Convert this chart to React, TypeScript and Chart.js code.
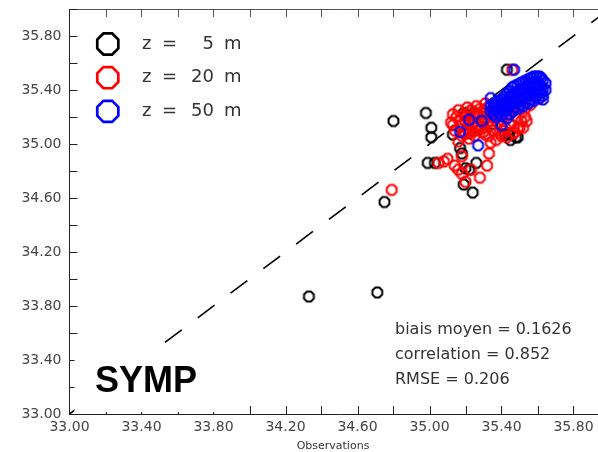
import React, { useEffect, useRef } from 'react';
import { Chart, registerables } from 'chart.js';

Chart.register(...registerables);

const AXIS_MIN = 33;
const AXIS_MAX = 36;
const TICK_STEP = 0.2;
const xTickLabels = ['33.00', '33.40', '33.80', '34.20', '34.60', '35.00', '35.40', '35.80'];
const yTickLabels = ['33.00', '33.40', '33.80', '34.20', '34.60', '35.00', '35.40', '35.80'];
const xAxisTitle = 'Observations';
const panelLabel = 'SYMP';
const statLines = ['biais moyen = 0.1626', 'correlation = 0.852', 'RMSE = 0.206'];
const depthLabels = ['5', '20', '50'];
const depthColors = ['#000000', '#ff0000', '#0000ff'];
const diagonal = [33, 36];

// z = 5 m (observations, model)
const obs5 = [34.33, 34.71, 34.75, 34.80, 34.98, 35.01, 35.01, 34.99, 35.03, 35.19, 35.13, 35.17, 35.18, 35.19, 35.24, 35.26, 35.20, 35.22, 35.44, 35.48, 35.20, 35.25, 35.43, 35.22, 35.30, 35.40, 35.50, 35.55, 35.35, 35.45, 35.42, 35.45, 35.49, 35.26];
const sym5 = [33.87, 33.90, 34.57, 35.17, 35.23, 35.12, 35.05, 34.86, 34.86, 35.23, 35.07, 34.97, 34.93, 34.70, 34.64, 34.86, 34.82, 35.08, 35.07, 35.05, 35.21, 35.23, 35.55, 34.81, 35.20, 35.30, 35.40, 35.45, 35.15, 35.35, 35.07, 35.03, 35.05, 35.12];

// z = 20 m
const obs20 = [34.79, 35.05, 35.08, 35.10, 35.14, 35.16, 35.18, 35.20, 35.18, 35.23, 35.28, 35.32, 35.33, 35.34, 35.31, 35.27, 35.22, 35.20, 35.13, 35.43, 35.47, 35.50, 35.41, 35.22, 35.30, 35.37, 35.46, 35.54, 35.49, 35.61,
  35.12, 35.14, 35.15, 35.17, 35.18, 35.19, 35.20, 35.21, 35.23, 35.24, 35.25, 35.26, 35.27, 35.28, 35.29, 35.30, 35.31, 35.32, 35.33, 35.34, 35.35, 35.36, 35.38, 35.39, 35.40, 35.42, 35.43, 35.45, 35.46, 35.48, 35.50, 35.51, 35.53, 35.56, 35.58, 35.61, 35.60, 35.47, 35.52, 35.37, 35.16, 35.22,
  35.13, 35.16, 35.19, 35.21, 35.24, 35.26, 35.29, 35.31, 35.34, 35.36, 35.38, 35.41, 35.44, 35.47, 35.50, 35.53, 35.17, 35.23, 35.27, 35.33, 35.30, 35.40];
const sym20 = [34.66, 34.86, 34.87, 34.89, 34.84, 34.81, 34.78, 34.72, 34.91, 34.81, 34.75, 34.84, 34.93, 35.01, 35.07, 35.10, 35.10, 35.08, 35.14, 35.05, 35.08, 35.12, 35.10, 35.23, 35.25, 35.20, 35.55, 35.17, 35.12, 35.40,
  35.16, 35.10, 35.20, 35.14, 35.06, 35.22, 35.17, 35.11, 35.25, 35.15, 35.06, 35.20, 35.13, 35.26, 35.18, 35.09, 35.23, 35.15, 35.28, 35.20, 35.10, 35.24, 35.16, 35.08, 35.22, 35.12, 35.27, 35.15, 35.30, 35.20, 35.33, 35.17, 35.26, 35.29, 35.35, 35.34, 35.42, 35.09, 35.12, 35.03, 35.02, 35.04,
  35.22, 35.25, 35.08, 35.27, 35.09, 35.28, 35.12, 35.30, 35.14, 35.29, 35.20, 35.17, 35.22, 35.25, 35.27, 35.20, 35.18, 35.20, 35.22, 35.06, 35.15, 35.06];

// z = 50 m
const obs50 = [35.47, 35.22, 35.29, 35.17, 35.40, 35.27, 35.34, 35.63,
  35.34, 35.34, 35.37, 35.37, 35.37, 35.40, 35.40, 35.40, 35.43, 35.43, 35.43, 35.43, 35.46, 35.46, 35.46, 35.46, 35.49, 35.49, 35.49, 35.49,
  35.52, 35.52, 35.52, 35.52, 35.55, 35.55, 35.55, 35.55, 35.58, 35.58, 35.58, 35.58, 35.61, 35.61, 35.61, 35.61, 35.63, 35.63, 35.63,
  35.355, 35.355, 35.355, 35.385, 35.385, 35.385, 35.415, 35.415, 35.415, 35.445, 35.445, 35.445, 35.445, 35.475, 35.475, 35.475, 35.475,
  35.505, 35.505, 35.505, 35.505, 35.535, 35.535, 35.535, 35.535, 35.565, 35.565, 35.565, 35.565, 35.595, 35.595, 35.595, 35.595,
  35.62, 35.62, 35.62, 35.645, 35.645];
const sym50 = [35.55, 35.18, 35.17, 35.09, 35.14, 34.99, 35.34, 35.33,
  35.28, 35.24, 35.31, 35.25, 35.20, 35.33, 35.27, 35.21, 35.37, 35.31, 35.25, 35.19, 35.42, 35.36, 35.30, 35.24, 35.44, 35.38, 35.32, 35.26,
  35.46, 35.40, 35.34, 35.28, 35.48, 35.42, 35.36, 35.30, 35.50, 35.44, 35.38, 35.32, 35.50, 35.44, 35.38, 35.34, 35.47, 35.41, 35.36,
  35.30, 35.26, 35.22, 35.32, 35.28, 35.23, 35.35, 35.30, 35.24, 35.39, 35.34, 35.28, 35.22, 35.43, 35.38, 35.33, 35.27,
  35.45, 35.40, 35.35, 35.29, 35.47, 35.42, 35.37, 35.31, 35.49, 35.44, 35.39, 35.33, 35.50, 35.46, 35.41, 35.36,
  35.49, 35.43, 35.38, 35.45, 35.40];

function octagonPath(g: CanvasRenderingContext2D, cx: number, cy: number, r: number) {
  g.beginPath();
  for (let i = 0; i < 8; i++) {
    const a = Math.PI / 8 + (i * Math.PI) / 4;
    const px = cx + r * Math.cos(a);
    const py = cy + r * Math.sin(a);
    if (i === 0) g.moveTo(px, py);
    else g.lineTo(px, py);
  }
  g.closePath();
}

function makeOctagon(color: string, r: number, lw: number) {
  const size = 17;
  const c = document.createElement('canvas');
  c.width = size;
  c.height = size;
  const g = c.getContext('2d') as CanvasRenderingContext2D;
  octagonPath(g, size / 2, size / 2, r);
  g.strokeStyle = color;
  g.lineWidth = lw;
  g.stroke();
  return c;
}

function pairs(xs: number[], ys: number[]) {
  return xs.map((x, i) => ({ x, y: ys[i] }));
}

function noPad(s: any) {
  s.paddingTop = 0;
  s.paddingBottom = 0;
  s.paddingLeft = 0;
  s.paddingRight = 0;
}

const overlayPlugin = {
  id: 'overlay',
  afterDatasetsDraw(chart: any) {
    const ctx: CanvasRenderingContext2D = chart.ctx;
    const { left, top, bottom } = chart.chartArea;
    const xs = chart.scales.x;
    const ys = chart.scales.y;
    ctx.save();

    // inward tick marks
    ctx.lineWidth = 1;
    xs.ticks.forEach((t: any, i: number) => {
      if (i === 0) return;
      const px = Math.round(xs.getPixelForValue(t.value)) + 0.5;
      ctx.strokeStyle = '#222';
      ctx.beginPath();
      ctx.moveTo(px, bottom);
      ctx.lineTo(px, bottom - 8);
      ctx.stroke();
      ctx.strokeStyle = '#555';
      ctx.beginPath();
      ctx.moveTo(px, top);
      ctx.lineTo(px, top + 8);
      ctx.stroke();
    });
    ctx.strokeStyle = '#222';
    ys.ticks.forEach((t: any, i: number) => {
      if (i === 0) return;
      const py = Math.round(ys.getPixelForValue(t.value)) + 0.5;
      ctx.beginPath();
      ctx.moveTo(left, py);
      ctx.lineTo(left + 8, py);
      ctx.stroke();
    });

    // legend
    depthLabels.forEach((d, i) => {
      const cy = 44 + i * 33.7;
      octagonPath(ctx, 107.8, cy, 11.4);
      ctx.strokeStyle = depthColors[i];
      ctx.lineWidth = 2.7;
      ctx.stroke();
      ctx.fillStyle = '#333';
      ctx.font = '18px "DejaVu Sans"';
      ctx.textBaseline = 'middle';
      ctx.textAlign = 'left';
      ctx.fillText('z', 142, cy);
      ctx.fillText('=', 162, cy);
      ctx.textAlign = 'right';
      ctx.fillText(d, 214, cy);
      ctx.textAlign = 'left';
      ctx.fillText('m', 224, cy);
    });

    // panel label with white background
    ctx.fillStyle = '#ffffff';
    ctx.fillRect(left + 5, 346, 140, bottom - 348);
    ctx.fillStyle = '#000';
    ctx.font = 'bold 36px "Liberation Sans", Arial, sans-serif';
    ctx.textAlign = 'left';
    ctx.textBaseline = 'alphabetic';
    ctx.fillText(panelLabel, 95, 392);

    // statistics
    ctx.fillStyle = '#333';
    ctx.font = '16px "DejaVu Sans"';
    ctx.textBaseline = 'middle';
    statLines.forEach((s, i) => {
      ctx.fillText(s, 395, 330 + i * 25);
    });

    // axis title
    ctx.font = '11px "DejaVu Sans"';
    ctx.textAlign = 'center';
    ctx.fillStyle = '#333';
    ctx.fillText(xAxisTitle, 333, 446);
    ctx.restore();
  },
};

export default function App() {
  const ref = useRef<HTMLCanvasElement | null>(null);

  useEffect(() => {
    if (!ref.current) return;
    const chart = new Chart(ref.current, {
      type: 'scatter',
      data: {
        datasets: [
          {
            label: 'z = 50 m',
            data: pairs(obs50, sym50),
            pointStyle: makeOctagon(depthColors[2], 5.3, 2) as any,
            pointRadius: 6,
            order: 0,
          },
          {
            label: 'z = 20 m',
            data: pairs(obs20, sym20),
            pointStyle: makeOctagon(depthColors[1], 5.3, 2) as any,
            pointRadius: 6,
            order: 1,
          },
          {
            label: 'z = 5 m',
            data: pairs(obs5, sym5),
            pointStyle: makeOctagon(depthColors[0], 5.3, 2) as any,
            pointRadius: 6,
            order: 2,
          },
          {
            label: 'y = x',
            data: pairs(diagonal, diagonal),
            showLine: true,
            borderColor: '#000',
            borderWidth: 1.6,
            borderDash: [21, 20],
            borderDashOffset: 3.7,
            pointRadius: 0,
            order: 3,
          } as any,
        ],
      },
      options: {
        animation: false,
        responsive: false,
        devicePixelRatio: 1,
        events: [],
        layout: { padding: { left: 0, right: 10.5, top: 0, bottom: 0 } },
        plugins: { legend: { display: false }, tooltip: { enabled: false } },
        scales: {
          x: {
            type: 'linear',
            position: 'bottom',
            min: AXIS_MIN,
            max: AXIS_MAX,
            afterFit: (s: any) => {
              s.height = 38;
              noPad(s);
            },
            ticks: {
              stepSize: TICK_STEP,
              autoSkip: false,
              maxRotation: 0,
              padding: 5,
              color: '#444',
              font: { family: '"DejaVu Sans"', size: 14 },
              callback: (_v: any, i: number) => (i % 2 === 0 && xTickLabels[i / 2] ? xTickLabels[i / 2] : ''),
            },
            grid: { display: false, drawTicks: false },
            border: { display: true, color: '#222', width: 1 },
          },
          x2: {
            type: 'linear',
            position: 'top',
            min: AXIS_MIN,
            max: AXIS_MAX,
            afterFit: (s: any) => {
              s.height = 9;
              noPad(s);
            },
            ticks: { display: false },
            grid: { display: false, drawTicks: false },
            border: { display: true, color: '#555', width: 1 },
          },
          y: {
            type: 'linear',
            position: 'left',
            min: AXIS_MIN,
            max: AXIS_MAX,
            afterFit: (s: any) => {
              s.width = 69.5;
              noPad(s);
            },
            ticks: {
              stepSize: TICK_STEP,
              autoSkip: false,
              padding: 8,
              color: '#444',
              font: { family: '"DejaVu Sans"', size: 14 },
              callback: (_v: any, i: number) => (i % 2 === 0 && yTickLabels[i / 2] ? yTickLabels[i / 2] : ''),
            },
            grid: { display: false, drawTicks: false },
            border: { display: true, color: '#222', width: 1 },
          },
        },
      } as any,
      plugins: [overlayPlugin],
    });
    return () => chart.destroy();
  }, []);

  return (
    <div
      style={{
        position: 'fixed',
        left: 0,
        top: 0,
        width: 598,
        height: 452,
        overflow: 'hidden',
        background: '#ffffff',
      }}
    >
      <canvas ref={ref} width={620} height={452} style={{ display: 'block', width: 620, height: 452 }} />
    </div>
  );
}
